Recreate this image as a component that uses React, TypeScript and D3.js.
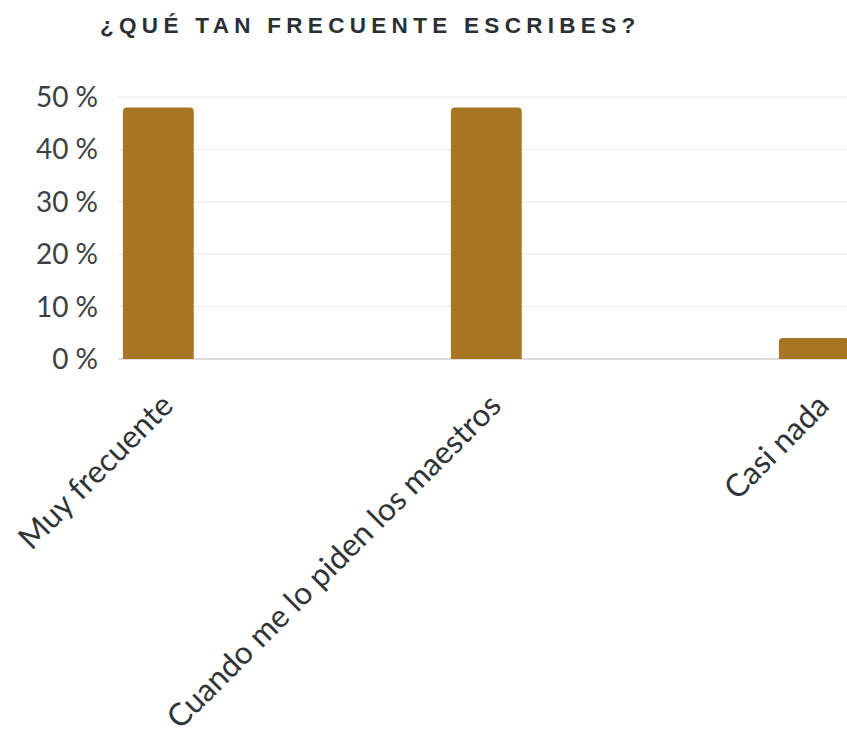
import * as d3 from "d3";
import { useEffect, useRef } from "react";

// categories and their share of answers (in %)
const categories = ["Muy frecuente", "Cuando me lo piden los maestros", "Casi nada"];
const values = [48, 48, 4];
const yTicks = [0, 10, 20, 30, 40, 50];
const title = "¿QUÉ TAN FRECUENTE ESCRIBES?";

const App = () => {
    const svgRef = useRef<SVGSVGElement | null>(null);

    useEffect(() => {
        document.body.style.margin = "0";
        const svg = d3.select(svgRef.current);
        svg.selectAll("*").remove();

        const width = 847, height = 736;
        const left = 118, top = 97, bottom = 359;
        const step = 328, padIn = 0.784, padOut = 0.015;

        const y = d3.scaleLinear().domain([0, 50]).range([bottom, top]);
        const x = d3.scaleBand<string>()
            .domain(categories)
            .range([left, left + step * (categories.length - padIn + 2 * padOut)])
            .paddingInner(padIn)
            .paddingOuter(padOut);

        svg.append("rect").attr("width", width).attr("height", height).attr("fill", "#fff");

        // title
        svg.append("text")
            .attr("x", 100)
            .attr("y", 33)
            .attr("fill", "#2b3035")
            .style("font-family", "'Liberation Sans', Arial, sans-serif")
            .style("font-weight", "bold")
            .style("font-size", "22.5px")
            .style("letter-spacing", "5.3px")
            .text(title);

        // ** gridlines + y labels **
        const g = svg.append("g");
        g.selectAll("line.grid")
            .data(yTicks)
            .join("line")
            .attr("class", "grid")
            .attr("x1", left)
            .attr("x2", width)
            .attr("y1", d => y(d))
            .attr("y2", d => y(d))
            .attr("stroke", d => d === 0 ? "#d2d2d2" : "#e8e8e8")
            .attr("stroke-width", d => d === 0 ? 1.5 : 1);

        g.selectAll("text.tick")
            .data(yTicks)
            .join("text")
            .attr("class", "tick")
            .attr("x", 98)
            .attr("y", d => y(d))
            .attr("dy", "0.36em")
            .attr("text-anchor", "end")
            .attr("fill", "#3b4045")
            .style("font-family", "Lato, sans-serif")
            .style("font-size", "28px")
            .text(d => `${d} %`);

        // ** bars with small rounded top **
        const r = 4;
        g.selectAll("path.bar")
            .data(values)
            .join("path")
            .attr("class", "bar")
            .attr("fill", "#a87622")
            .attr("d", (d, i) => {
                const x0 = x(categories[i])!;
                const w = x.bandwidth();
                const y0 = y(d), y1 = y(0);
                const p = d3.path();
                p.moveTo(x0, y1);
                p.lineTo(x0, y0 + r);
                p.quadraticCurveTo(x0, y0, x0 + r, y0);
                p.lineTo(x0 + w - r, y0);
                p.quadraticCurveTo(x0 + w, y0, x0 + w, y0 + r);
                p.lineTo(x0 + w, y1);
                p.closePath();
                return p.toString();
            });

        // ** rotated category labels **
        g.selectAll("text.cat")
            .data(categories)
            .join("text")
            .attr("class", "cat")
            .attr("text-anchor", "end")
            .attr("transform", d => `translate(${x(d)! + x.bandwidth() / 2 + 1},${bottom + 33}) rotate(-45)`)
            .attr("dy", "0.7em")
            .attr("fill", "#2f3438")
            .style("font-family", "Lato, sans-serif")
            .style("font-size", "31.5px")
            .text(d => d);
    }, []);

    return <svg ref={svgRef} width={847} height={736} style={{ display: "block", overflow: "hidden" }} />;
};

export default App;
